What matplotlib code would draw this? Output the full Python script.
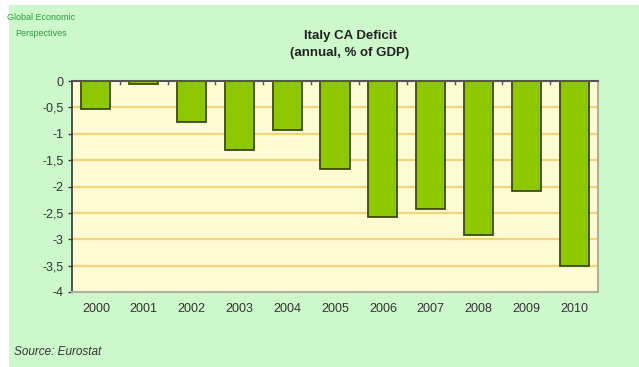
import matplotlib.pyplot as plt
from matplotlib.patches import Rectangle

years = ['2000', '2001', '2002', '2003', '2004', '2005',
         '2006', '2007', '2008', '2009', '2010']
deficit = [-0.54, -0.05, -0.77, -1.30, -0.93, -1.66,
           -2.57, -2.43, -2.92, -2.08, -3.50]
y_ticks = [0, -0.5, -1, -1.5, -2, -2.5, -3, -3.5, -4]
y_labels = ['0', '-0,5', '-1', '-1,5', '-2', '-2,5', '-3', '-3,5', '-4']

plt.rcParams['font.family'] = ['Liberation Sans', 'DejaVu Sans']

W, H = 639, 367
fig = plt.figure(figsize=(W / 100, H / 100), dpi=100, facecolor='white')

# green card behind everything
fig.patches.append(Rectangle((9 / W, 0), 1 - 9 / W, 1 - 5 / H,
                             transform=fig.transFigure, facecolor='#ccf8cc',
                             edgecolor='none', zorder=-10))

# plot area (pixels: x 72-598, y 81-292)
ax = fig.add_axes([72 / W, 1 - 292 / H, (598 - 72) / W, (292 - 81) / H])
ax.set_facecolor('#fffbd2')

x = list(range(len(years)))
ax.bar(x, deficit, width=0.61, color='#8cc700', edgecolor='#3d4a10',
       linewidth=1.3, zorder=3)

ax.set_xlim(-0.5, len(years) - 0.5)
ax.set_ylim(-4, 0)
ax.set_yticks(y_ticks)
ax.set_yticklabels(y_labels)
for yv in y_ticks[1:-1]:
    ax.axhline(yv, color='#f3d47a', linewidth=1.6, zorder=1)

ax.set_xticks(x)
ax.set_xticklabels(years)
ax.tick_params(axis='x', length=0, pad=8, labelsize=9, labelcolor='#333333')
ax.tick_params(axis='y', length=3, width=1, color='#444444', pad=3,
               labelsize=9, labelcolor='#333333')

# small marks between categories on the zero line
for b in range(1, len(years)):
    ax.plot([b - 0.5, b - 0.5], [0, -0.05], color='#555555', lw=1, zorder=4,
            clip_on=False)

ax.spines['left'].set_color('#333333')
ax.spines['left'].set_linewidth(1.2)
ax.spines['top'].set_color('#555555')
ax.spines['top'].set_linewidth(1.5)
ax.spines['top'].set_zorder(4)
for s in ['right', 'bottom']:
    ax.spines[s].set_color('#b0b0a0')
    ax.spines[s].set_linewidth(1.5)

fig.text(350 / W, 1 - 36 / H, 'Italy CA Deficit', ha='center', va='center',
         fontsize=9.5, fontweight='bold', color='#222222')
fig.text(350 / W, 1 - 53 / H, '(annual, % of GDP)', ha='center', va='center',
         fontsize=9.5, fontweight='bold', color='#222222')

logo_font = ['Liberation Sans Narrow', 'Liberation Sans', 'DejaVu Sans']
fig.text(41 / W, 1 - 18 / H, 'Global Economic', ha='center', va='center',
         fontsize=6.5, color='#2f9e3a', family=logo_font)
fig.text(41 / W, 1 - 33 / H, 'Perspectives', ha='center', va='center',
         fontsize=6.5, color='#2f9e3a', family=logo_font)

fig.text(14 / W, 1 - 352 / H, 'Source: Eurostat', ha='left', va='center',
         fontsize=8.5, style='italic', color='#333333')

fig.savefig('out.png', dpi=100, facecolor=fig.get_facecolor())
